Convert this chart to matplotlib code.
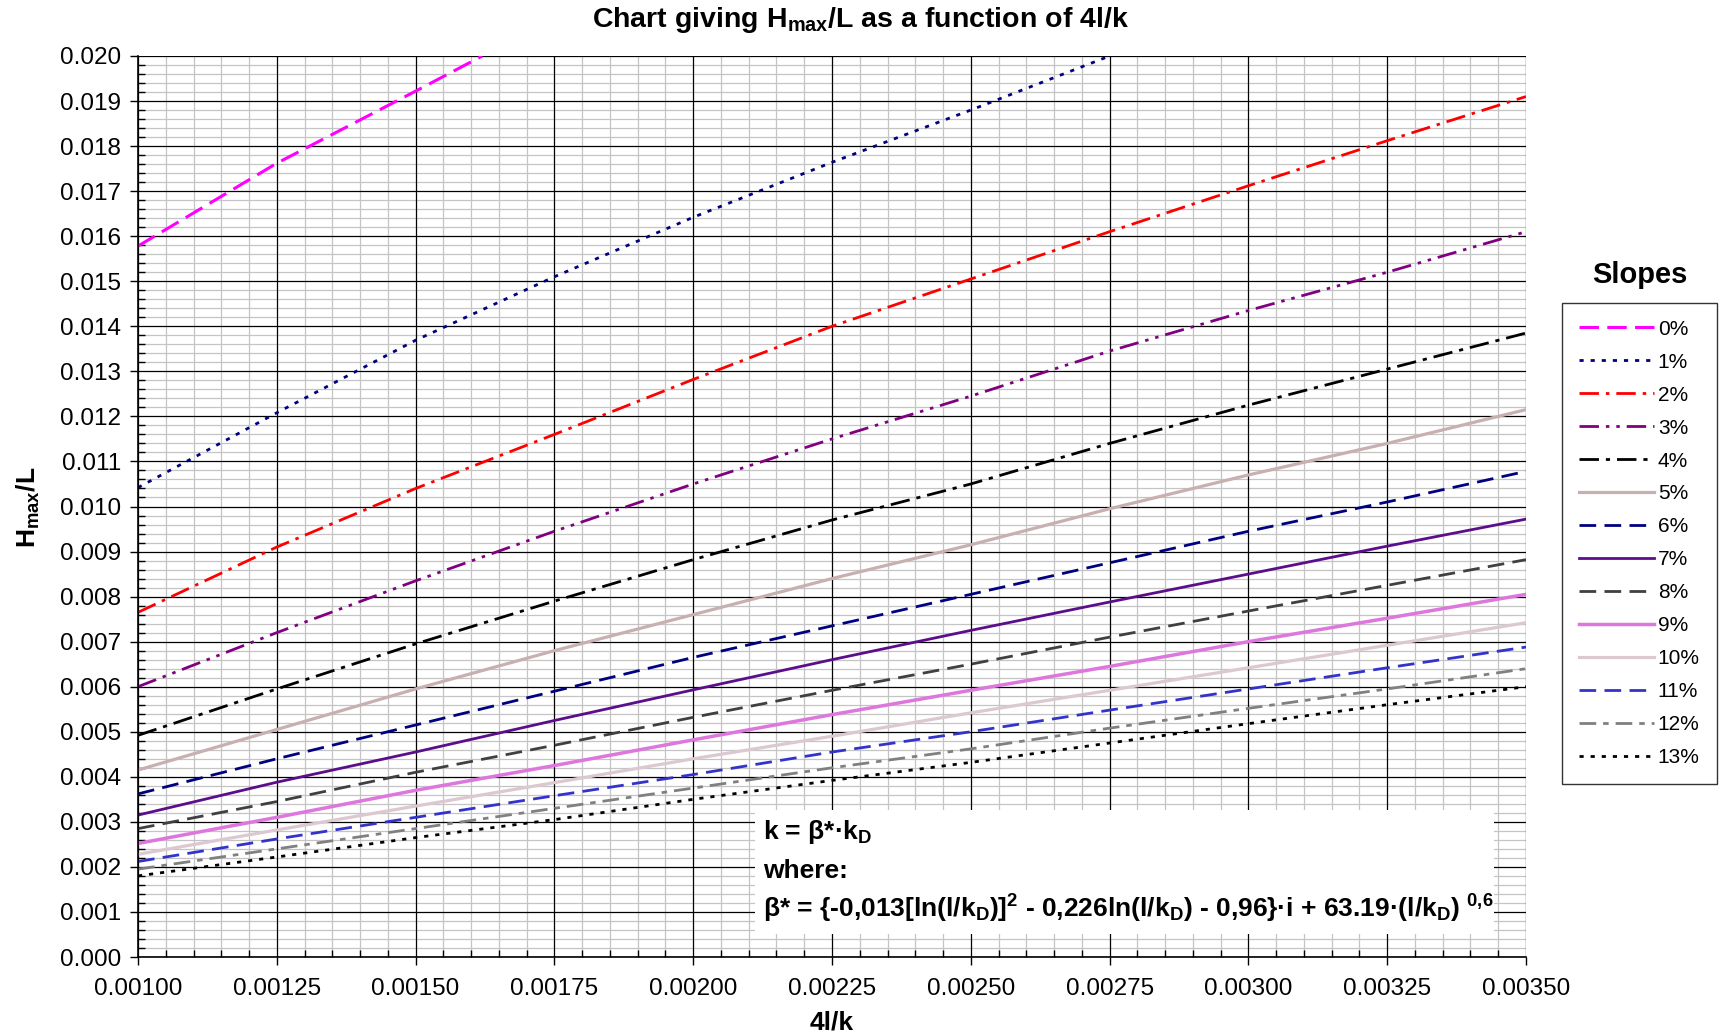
import matplotlib
matplotlib.use("Agg")
import matplotlib.pyplot as plt
from matplotlib.ticker import MultipleLocator, FormatStrFormatter
from matplotlib.patches import Rectangle

plt.rcParams["font.family"] = ["Liberation Sans", "DejaVu Sans"]
plt.rcParams["mathtext.fontset"] = "custom"
plt.rcParams["mathtext.rm"] = "Liberation Sans:bold"
plt.rcParams["mathtext.it"] = "Liberation Sans:bold"
plt.rcParams["mathtext.bf"] = "Liberation Sans:bold"
plt.rcParams["mathtext.default"] = "rm"
plt.rcParams["lines.scale_dashes"] = False

# 4l/k positions read on the chart
x = [0.001, 0.00125, 0.0015, 0.00175, 0.002, 0.00225,
     0.0025, 0.00275, 0.003, 0.00325, 0.0035]

# Hmax/L for each slope
x_0 = [0.001, 0.00125, 0.0015, 0.00162]
slope_0 = [0.01578, 0.01762, 0.01922, 0.0200]
x_1 = [0.001, 0.00125, 0.0015, 0.00175, 0.002, 0.00225, 0.0025, 0.00275]
slope_1 = [0.01042, 0.01208, 0.01369, 0.01510, 0.01642, 0.01764, 0.01880, 0.0200]
slope_2 = [0.00765, 0.00910, 0.01040, 0.01160, 0.01282, 0.01400, 0.01505, 0.01610, 0.01712, 0.01812, 0.01910]
slope_3 = [0.00600, 0.00720, 0.00835, 0.00945, 0.01050, 0.01150, 0.01245, 0.01345, 0.01435, 0.01520, 0.01610]
slope_4 = [0.00492, 0.00595, 0.00695, 0.00790, 0.00882, 0.00970, 0.01050, 0.01140, 0.01225, 0.01305, 0.01385]
slope_5 = [0.00415, 0.00505, 0.00595, 0.00680, 0.00760, 0.00840, 0.00915, 0.00995, 0.01070, 0.01140, 0.01215]
slope_6 = [0.00362, 0.00440, 0.00515, 0.00590, 0.00665, 0.00735, 0.00805, 0.00875, 0.00945, 0.01010, 0.01078]
slope_7 = [0.00315, 0.00388, 0.00455, 0.00525, 0.00593, 0.00660, 0.00725, 0.00788, 0.00850, 0.00912, 0.00972]
slope_8 = [0.00285, 0.00345, 0.00410, 0.00470, 0.00532, 0.00592, 0.00650, 0.00710, 0.00768, 0.00825, 0.00882]
slope_9 = [0.00252, 0.00310, 0.00370, 0.00425, 0.00482, 0.00538, 0.00592, 0.00645, 0.00700, 0.00752, 0.00805]
slope_10 = [0.00228, 0.00282, 0.00335, 0.00387, 0.00440, 0.00490, 0.00542, 0.00592, 0.00642, 0.00692, 0.00742]
slope_11 = [0.00212, 0.00262, 0.00310, 0.00358, 0.00405, 0.00455, 0.00500, 0.00548, 0.00595, 0.00642, 0.00688]
slope_12 = [0.00195, 0.00240, 0.00285, 0.00330, 0.00375, 0.00420, 0.00462, 0.00508, 0.00552, 0.00595, 0.00640]
slope_13 = [0.00180, 0.00222, 0.00265, 0.00305, 0.00350, 0.00392, 0.00432, 0.00475, 0.00518, 0.00560, 0.00600]

labels = ["0%", "1%", "2%", "3%", "4%", "5%", "6%", "7%", "8%", "9%",
          "10%", "11%", "12%", "13%"]

series = [
    (x_0, slope_0, "#FF00FF", 2.2, (0, (14, 6))),
    (x_1, slope_1, "#000080", 2.0, (0, (3, 5))),
    (x, slope_2, "#FF0000", 2.0, (0, (14, 5, 2.5, 5))),
    (x, slope_3, "#800080", 2.0, (0, (14, 5, 2.5, 5, 2.5, 5))),
    (x, slope_4, "#000000", 2.0, (0, (14, 5, 3, 5))),
    (x, slope_5, "#C8B0B0", 2.3, "-"),
    (x, slope_6, "#000080", 2.0, (0, (12, 6))),
    (x, slope_7, "#5B0E8B", 2.0, "-"),
    (x, slope_8, "#404040", 2.0, (0, (12, 6))),
    (x, slope_9, "#DD77DD", 2.5, "-"),
    (x, slope_10, "#DCC8D0", 2.3, "-"),
    (x, slope_11, "#3333CC", 2.0, (0, (12, 6))),
    (x, slope_12, "#808080", 2.0, (0, (12, 5, 4, 5))),
    (x, slope_13, "#000000", 2.0, (0, (3, 5))),
]

fig = plt.figure(figsize=(17.2, 10.36), dpi=100)
ax = fig.add_axes([138 / 1720, 1 - 957 / 1036, 1388 / 1720, 901 / 1036])

handles = []
for xs, ys, color, lw, ls in series:
    line, = ax.plot(xs, ys, color=color, lw=lw, linestyle=ls, zorder=3)
    handles.append(line)

ax.set_xlim(0.001, 0.0035)
ax.set_ylim(0.0, 0.020)
ax.xaxis.set_major_locator(MultipleLocator(0.00025))
ax.xaxis.set_minor_locator(MultipleLocator(0.00005))
ax.yaxis.set_major_locator(MultipleLocator(0.001))
ax.yaxis.set_minor_locator(MultipleLocator(0.0002))
ax.xaxis.set_major_formatter(FormatStrFormatter("%.5f"))
ax.yaxis.set_major_formatter(FormatStrFormatter("%.3f"))

# minor grid from the axis, major grid drawn on top of it
ax.set_axisbelow(True)
ax.grid(which="minor", color="#c4c4c4", lw=0.9)
ax.vlines(ax.get_xticks(), 0, 1, transform=ax.get_xaxis_transform(),
          color="black", lw=0.9, zorder=0.8)
ax.hlines(ax.get_yticks(), 0, 1, transform=ax.get_yaxis_transform(),
          color="black", lw=0.9, zorder=0.8)
ax.set_xlim(0.001, 0.0035)
ax.set_ylim(0.0, 0.020)

ax.tick_params(which="major", direction="out", length=6, width=1,
               labelsize=17.5, pad=6)
ax.tick_params(axis="x", which="major", pad=9)
ax.tick_params(which="minor", direction="in", length=5, width=1)
for side in ["top", "right"]:
    ax.spines[side].set_visible(False)
for side in ["left", "bottom"]:
    ax.spines[side].set_linewidth(1.2)
    ax.spines[side].set_zorder(5)

# white note box over the grid
ax.add_patch(Rectangle((0.4445, 0.026), 0.5325, 0.137, transform=ax.transAxes,
                       facecolor="white", edgecolor="none", zorder=1))
note_font = dict(fontsize=19, fontweight="bold",
                 family=["Liberation Sans Narrow", "Liberation Sans"],
                 transform=ax.transAxes, va="center", ha="left", zorder=4)
ax.text(0.4506, 0.139, "k = β*·k$_{D}$", **note_font)
ax.text(0.4506, 0.096, "where:", **note_font)
ax.text(0.4506, 0.0535,
        "β* = {-0,013[ln(l/k$_{D}$)]$^{2}$ - 0,226ln(l/k$_{D}$) - 0,96}·i"
        " + 63.19·(l/k$_{D}$) $^{0{,}6}$", **note_font)

fig.text(0.5, 0.981, "Chart giving H$_{max}$/L as a function of 4l/k",
         ha="center", va="center", fontsize=20.5, fontweight="bold")
fig.text(832 / 1720, 1 - 1022 / 1036, "4l/k", ha="center", va="center",
         fontsize=19, fontweight="bold")
fig.text(28 / 1720, 1 - 507 / 1036, "H$_{max}$/L", ha="center", va="center",
         rotation=90, fontsize=19, fontweight="bold")

fig.text(1640 / 1720, 1 - 275 / 1036, "Slopes", ha="center", va="center",
         fontsize=21, fontweight="bold")
leg = fig.legend(handles, labels, loc="upper left",
                 bbox_to_anchor=(1562 / 1720, 1 - 303 / 1036),
                 borderaxespad=0, fontsize=15, handlelength=3.6,
                 handletextpad=0.2, labelspacing=0.67, frameon=True,
                 fancybox=False, borderpad=0.8)
leg.get_frame().set_edgecolor("black")
leg.get_frame().set_linewidth(1.0)

fig.savefig("out.png", dpi=100)
